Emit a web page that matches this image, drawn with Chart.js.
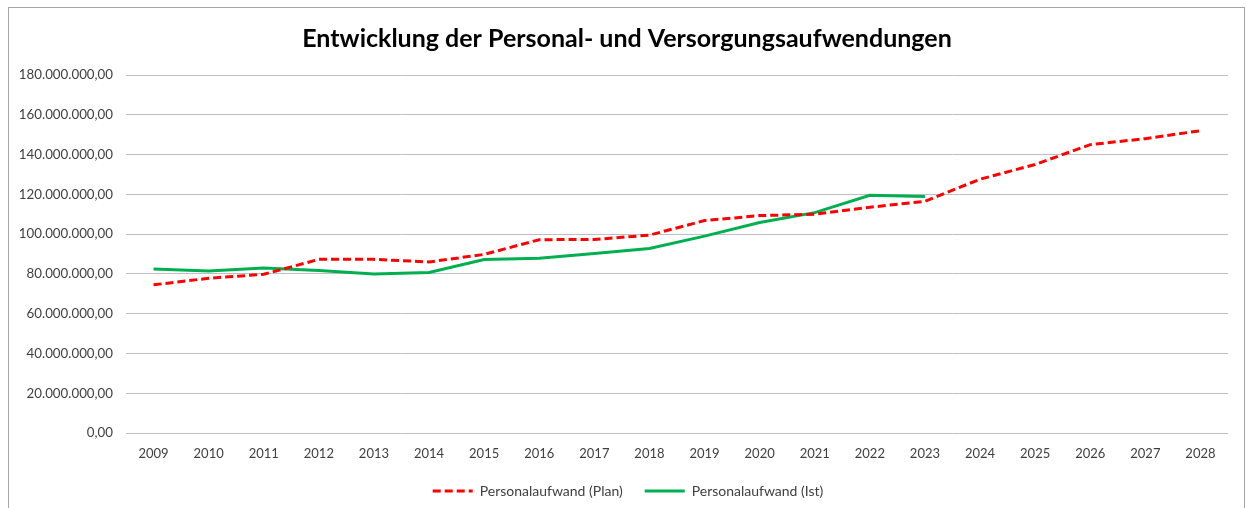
<!DOCTYPE html>
<html>
<head>
<meta charset="utf-8">
<script src="https://cdn.jsdelivr.net/npm/chart.js@4.4.1/dist/chart.umd.min.js"></script>
<style>
  html, body { margin: 0; padding: 0; background: #ffffff; }
  #frame { position: absolute; left: 8px; top: 7px; width: 1237px; height: 520px; border: 1px solid #a6a6a6; box-sizing: border-box; }
  #wrap { position: absolute; left: 0; top: 0; width: 1246px; height: 508px; }
</style>
</head>
<body>
<div id="frame"></div>
<div id="wrap"><canvas id="c" width="1246" height="508"></canvas></div>
<script>
const years = ['2009','2010','2011','2012','2013','2014','2015','2016','2017','2018','2019','2020','2021','2022','2023','2024','2025','2026','2027','2028'];
const planValues = [74500000, 77800000, 79800000, 87300000, 87300000, 86000000, 89800000, 97200000, 97300000, 99500000, 106800000, 109300000, 110000000, 113500000, 116500000, 127600000, 135000000, 145000000, 148000000, 152000000];
const istValues = [82400000, 81500000, 82900000, 81700000, 79900000, 80700000, 87200000, 87900000, 90300000, 92800000, 99000000, 105800000, 110800000, 119500000, 118900000, null, null, null, null, null];
const yTickValues = [0, 20000000, 40000000, 60000000, 80000000, 100000000, 120000000, 140000000, 160000000, 180000000];
const titleText = 'Entwicklung der Personal- und Versorgungsaufwendungen';
const seriesNames = ['Personalaufwand (Plan)', 'Personalaufwand (Ist)'];

function formatDE(v) {
  const neg = v < 0;
  let s = Math.round(Math.abs(v)).toString();
  let out = '';
  while (s.length > 3) { out = '.' + s.slice(-3) + out; s = s.slice(0, -3); }
  out = s + out;
  return (neg ? '-' : '') + out + ',00';
}

const FONT = 'Lato, "Liberation Sans", sans-serif';

// shift title and legend boxes so they centre on the whole frame like the original
const centreShift = {
  id: 'centreShift',
  afterLayout: function (chart) {
    if (chart.titleBlock) { chart.titleBlock.left += 26; }
    if (chart.legend) { chart.legend.left += 28; }
  }
};

new Chart(document.getElementById('c'), {
  type: 'line',
  plugins: [centreShift],
  data: {
    labels: years,
    datasets: [
      {
        label: seriesNames[0],
        data: planValues,
        borderColor: '#ff0000',
        backgroundColor: '#ff0000',
        borderWidth: 3,
        borderDash: [8, 4],
        pointRadius: 0,
        tension: 0,
        fill: false
      },
      {
        label: seriesNames[1],
        data: istValues,
        borderColor: '#00b050',
        backgroundColor: '#00b050',
        borderWidth: 3,
        pointRadius: 0,
        tension: 0,
        fill: false,
        spanGaps: false
      }
    ]
  },
  options: {
    responsive: false,
    animation: false,
    devicePixelRatio: 1,
    layout: { padding: { left: 0, right: 18, top: 0, bottom: 0 } },
    plugins: {
      title: {
        display: true,
        text: titleText,
        color: '#000000',
        font: { family: FONT, size: 25, weight: 'bold' },
        padding: { top: 24, bottom: 21 }
      },
      legend: {
        position: 'bottom',
        labels: {
          usePointStyle: true,
          pointStyle: 'line',
          pointStyleWidth: 40,
          boxWidth: 40,
          color: '#404040',
          font: { family: FONT, size: 14 },
          padding: 22,
          generateLabels: function (chart) {
            const items = Chart.defaults.plugins.legend.labels.generateLabels(chart);
            items.forEach(function (it) {
              const ds = chart.data.datasets[it.datasetIndex];
              it.lineDash = ds.borderDash || [];
              it.lineWidth = 3;
              it.strokeStyle = ds.borderColor;
              it.lineCap = 'butt';
            });
            return items;
          }
        }
      },
      tooltip: { enabled: false }
    },
    scales: {
      x: {
        offset: true,
        grid: { display: false, drawTicks: false },
        border: { display: false },
        ticks: { color: '#404040', font: { family: FONT, size: 13 }, padding: 13, maxRotation: 0 },
        afterFit: function (s) { s.height = 29; }
      },
      y: {
        min: 0,
        max: 180000000,
        afterBuildTicks: function (s) { s.ticks = yTickValues.map(v => ({ value: v })); },
        grid: { color: '#bfbfbf', lineWidth: 1, drawTicks: false },
        border: { display: false },
        ticks: {
          color: '#404040',
          font: { family: FONT, size: 13.3 },
          padding: 13,
          callback: function (v) { return formatDE(v); }
        },
        afterFit: function (s) { s.width = 126; }
      }
    }
  }
});
</script>
</body>
</html>
